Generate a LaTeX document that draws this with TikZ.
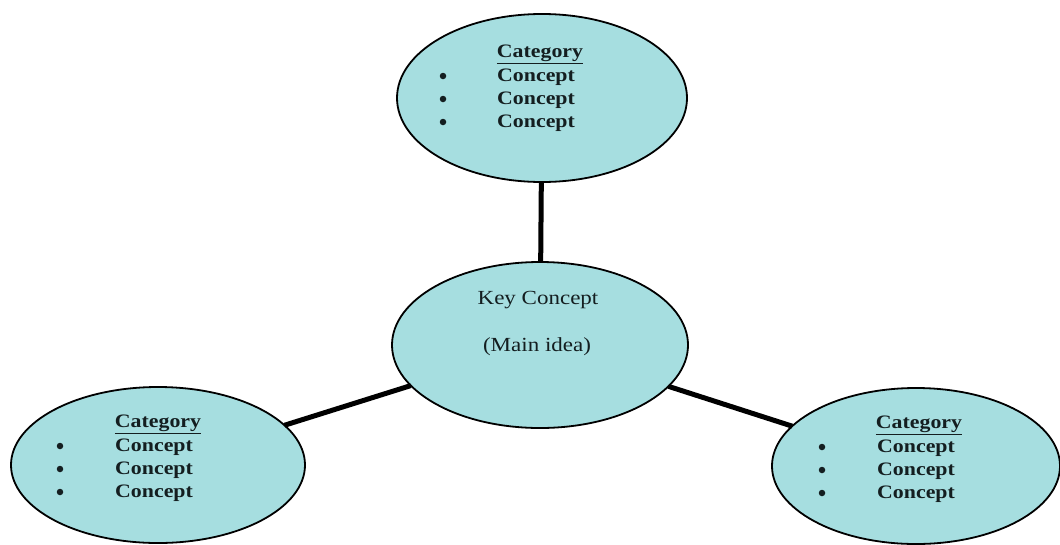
\documentclass[tikz,border=0pt]{standalone}
\usepackage{fontspec}
\setmainfont{Liberation Serif}
\usetikzlibrary{shapes.geometric}
\definecolor{bubble}{RGB}{166,222,224}
\definecolor{inktext}{RGB}{20,30,32}
\newcommand\wx[1]{\scalebox{1.15}[1]{#1}}
\newcommand\catlist[5]{%
  \node[cattext] (#1cat) at (#4,#5) {\wx{\underline{Category}}};
  \foreach \i in {1,2,3} {
    \node[bul] (#1b\i) at (#2,{#5+\i*23-1}) {};
    \node[cattext,anchor=west] (#1c\i) at (#3,{#5+\i*23}) {\wx{Concept}};
  }%
}
\begin{document}
\begin{tikzpicture}[x=1pt,y=-1pt,
  bubblebox/.style={ellipse,draw=black,line width=1.8pt,fill=bubble,inner sep=0pt,outer sep=0pt},
  link/.style={line width=5pt,black},
  cattext/.style={font=\fontsize{19}{23}\selectfont\bfseries,text=inktext,inner sep=0pt},
  bul/.style={circle,fill=inktext,inner sep=0pt,minimum size=6.5pt},
  keytext/.style={font=\fontsize{20}{24}\selectfont,text=inktext,inner sep=0pt}]
\useasboundingbox (0,0) rectangle (1060,544);
\fill[white] (0,0) rectangle (1060,544);
\node[bubblebox,minimum width=290pt,minimum height=168pt] (top) at (542,98) {};
\node[bubblebox,minimum width=296pt,minimum height=166pt] (key) at (540,345) {};
\node[bubblebox,minimum width=294pt,minimum height=156pt] (left) at (158,465) {};
\node[bubblebox,minimum width=288pt,minimum height=156pt] (right) at (916,466) {};
\draw[link] (top) -- (key);
\draw[link] (key) -- (left);
\draw[link] (key) -- (right);
\node[keytext] (keyA) at (538,300) {\wx{Key Concept}};
\node[keytext] (keyB) at (537,347) {\wx{(Main idea)}};
\catlist{t}{443}{497}{540}{54}
\catlist{l}{60}{115}{158}{424}
\catlist{r}{822}{877}{919}{425}
\end{tikzpicture}
\end{document}
